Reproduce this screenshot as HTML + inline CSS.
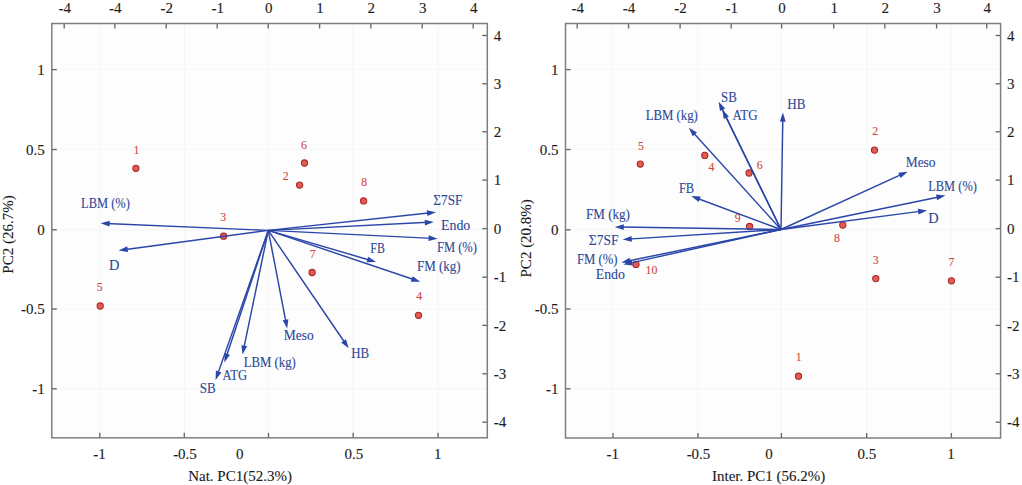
<!DOCTYPE html>
<html><head><meta charset="utf-8"><style>
html,body{margin:0;padding:0;background:#fff;}
svg{display:block;}
.ax{font-family:"Liberation Serif",serif;font-size:15px;fill:#1a1a1a;stroke:#1a1a1a;stroke-width:0.1px;}
.bl{font-family:"Liberation Serif",serif;font-size:13.6px;fill:#2d4898;stroke:#2d4898;stroke-width:0.1px;}
.rl{font-family:"Liberation Serif",serif;font-size:11.8px;fill:#d0463d;stroke:#d0463d;stroke-width:0.1px;}
</style></head><body>
<svg width="1022" height="485" viewBox="0 0 1022 485">
<rect width="1022" height="485" fill="#fff"/>
<rect x="51.8" y="23.5" width="435.5" height="414.3" fill="#fdfdfd"/>
<line x1="100.2" y1="23.5" x2="100.2" y2="437.8" stroke="#f6f6f6" stroke-width="1"/>
<line x1="184.5" y1="23.5" x2="184.5" y2="437.8" stroke="#f6f6f6" stroke-width="1"/>
<line x1="268.5" y1="23.5" x2="268.5" y2="437.8" stroke="#f6f6f6" stroke-width="1"/>
<line x1="353.2" y1="23.5" x2="353.2" y2="437.8" stroke="#f6f6f6" stroke-width="1"/>
<line x1="437.8" y1="23.5" x2="437.8" y2="437.8" stroke="#f6f6f6" stroke-width="1"/>
<line x1="51.8" y1="69.6" x2="487.3" y2="69.6" stroke="#f6f6f6" stroke-width="1"/>
<line x1="51.8" y1="149.5" x2="487.3" y2="149.5" stroke="#f6f6f6" stroke-width="1"/>
<line x1="51.8" y1="229.8" x2="487.3" y2="229.8" stroke="#f6f6f6" stroke-width="1"/>
<line x1="51.8" y1="309.0" x2="487.3" y2="309.0" stroke="#f6f6f6" stroke-width="1"/>
<line x1="51.8" y1="388.8" x2="487.3" y2="388.8" stroke="#f6f6f6" stroke-width="1"/>
<line x1="51.8" y1="69.6" x2="56.8" y2="69.6" stroke="#666666" stroke-width="1.35"/>
<text x="44.8" y="74.89999999999999" text-anchor="end" class="ax">1</text>
<line x1="51.8" y1="149.5" x2="56.8" y2="149.5" stroke="#666666" stroke-width="1.35"/>
<text x="44.8" y="154.8" text-anchor="end" class="ax">0.5</text>
<line x1="51.8" y1="229.8" x2="56.8" y2="229.8" stroke="#666666" stroke-width="1.35"/>
<text x="44.8" y="235.10000000000002" text-anchor="end" class="ax">0</text>
<line x1="51.8" y1="309.0" x2="56.8" y2="309.0" stroke="#666666" stroke-width="1.35"/>
<text x="44.8" y="314.3" text-anchor="end" class="ax">-0.5</text>
<line x1="51.8" y1="388.8" x2="56.8" y2="388.8" stroke="#666666" stroke-width="1.35"/>
<text x="44.8" y="394.1" text-anchor="end" class="ax">-1</text>
<line x1="99.8" y1="437.8" x2="99.8" y2="432.8" stroke="#666666" stroke-width="1.35"/>
<text x="99.5" y="458.8" text-anchor="middle" class="ax">-1</text>
<line x1="184.3" y1="437.8" x2="184.3" y2="432.8" stroke="#666666" stroke-width="1.35"/>
<text x="185" y="458.8" text-anchor="middle" class="ax">-0.5</text>
<line x1="268.5" y1="437.8" x2="268.5" y2="432.8" stroke="#666666" stroke-width="1.35"/>
<text x="239.8" y="458.8" text-anchor="middle" class="ax">0</text>
<line x1="353.2" y1="437.8" x2="353.2" y2="432.8" stroke="#666666" stroke-width="1.35"/>
<text x="353.8" y="458.8" text-anchor="middle" class="ax">0.5</text>
<line x1="438" y1="437.8" x2="438" y2="432.8" stroke="#666666" stroke-width="1.35"/>
<text x="437.8" y="458.8" text-anchor="middle" class="ax">1</text>
<line x1="64.2" y1="23.5" x2="64.2" y2="28.5" stroke="#666666" stroke-width="1.35"/>
<text x="64.7" y="12.6" text-anchor="middle" class="ax">-4</text>
<line x1="114.8" y1="23.5" x2="114.8" y2="28.5" stroke="#666666" stroke-width="1.35"/>
<text x="115.3" y="12.6" text-anchor="middle" class="ax">-4</text>
<line x1="166.2" y1="23.5" x2="166.2" y2="28.5" stroke="#666666" stroke-width="1.35"/>
<text x="166.7" y="12.6" text-anchor="middle" class="ax">-2</text>
<line x1="217.2" y1="23.5" x2="217.2" y2="28.5" stroke="#666666" stroke-width="1.35"/>
<text x="217.7" y="12.6" text-anchor="middle" class="ax">-1</text>
<line x1="268.2" y1="23.5" x2="268.2" y2="28.5" stroke="#666666" stroke-width="1.35"/>
<text x="268.7" y="12.6" text-anchor="middle" class="ax">0</text>
<line x1="319.6" y1="23.5" x2="319.6" y2="28.5" stroke="#666666" stroke-width="1.35"/>
<text x="320.1" y="12.6" text-anchor="middle" class="ax">1</text>
<line x1="370.8" y1="23.5" x2="370.8" y2="28.5" stroke="#666666" stroke-width="1.35"/>
<text x="371.3" y="12.6" text-anchor="middle" class="ax">2</text>
<line x1="422.2" y1="23.5" x2="422.2" y2="28.5" stroke="#666666" stroke-width="1.35"/>
<text x="422.7" y="12.6" text-anchor="middle" class="ax">3</text>
<line x1="473.2" y1="23.5" x2="473.2" y2="28.5" stroke="#666666" stroke-width="1.35"/>
<text x="473.7" y="12.6" text-anchor="middle" class="ax">4</text>
<line x1="487.3" y1="35.5" x2="482.3" y2="35.5" stroke="#666666" stroke-width="1.35"/>
<text x="493.8" y="40.6" class="ax">4</text>
<line x1="487.3" y1="83.8" x2="482.3" y2="83.8" stroke="#666666" stroke-width="1.35"/>
<text x="493.8" y="88.89999999999999" class="ax">3</text>
<line x1="487.3" y1="131.8" x2="482.3" y2="131.8" stroke="#666666" stroke-width="1.35"/>
<text x="493.8" y="136.9" class="ax">2</text>
<line x1="487.3" y1="180.1" x2="482.3" y2="180.1" stroke="#666666" stroke-width="1.35"/>
<text x="493.8" y="185.2" class="ax">1</text>
<line x1="487.3" y1="228.6" x2="482.3" y2="228.6" stroke="#666666" stroke-width="1.35"/>
<text x="493.8" y="233.7" class="ax">0</text>
<line x1="487.3" y1="277.2" x2="482.3" y2="277.2" stroke="#666666" stroke-width="1.35"/>
<text x="493.8" y="282.3" class="ax">-1</text>
<line x1="487.3" y1="325.4" x2="482.3" y2="325.4" stroke="#666666" stroke-width="1.35"/>
<text x="493.8" y="330.5" class="ax">-2</text>
<line x1="487.3" y1="373.8" x2="482.3" y2="373.8" stroke="#666666" stroke-width="1.35"/>
<text x="493.8" y="378.90000000000003" class="ax">-3</text>
<line x1="487.3" y1="422.2" x2="482.3" y2="422.2" stroke="#666666" stroke-width="1.35"/>
<text x="493.8" y="427.3" class="ax">-4</text>
<rect x="51.8" y="23.5" width="435.5" height="414.3" fill="none" stroke="#7f7f7f" stroke-width="1.5"/>
<text transform="translate(12.5,234.5) rotate(-90)" text-anchor="middle" class="ax">PC2 (26.7%)</text>
<text x="188.2" y="481" class="ax">Nat. PC1(52.3%)</text>
<circle cx="135.9" cy="168.3" r="3.1" fill="#e35a50" stroke="#a82a2a" stroke-width="1.1"/>
<text x="136.5" y="154.2" text-anchor="middle" class="rl">1</text>
<circle cx="299.6" cy="185.1" r="3.1" fill="#e35a50" stroke="#a82a2a" stroke-width="1.1"/>
<text x="285.7" y="180" text-anchor="middle" class="rl">2</text>
<circle cx="304.5" cy="163" r="3.1" fill="#e35a50" stroke="#a82a2a" stroke-width="1.1"/>
<text x="303.9" y="148.6" text-anchor="middle" class="rl">6</text>
<circle cx="363.6" cy="200.9" r="3.1" fill="#e35a50" stroke="#a82a2a" stroke-width="1.1"/>
<text x="364.2" y="185.9" text-anchor="middle" class="rl">8</text>
<circle cx="223.6" cy="236.2" r="3.1" fill="#e35a50" stroke="#a82a2a" stroke-width="1.1"/>
<text x="223.3" y="221.1" text-anchor="middle" class="rl">3</text>
<circle cx="312.1" cy="272.5" r="3.1" fill="#e35a50" stroke="#a82a2a" stroke-width="1.1"/>
<text x="312.8" y="258" text-anchor="middle" class="rl">7</text>
<circle cx="100.2" cy="306" r="3.1" fill="#e35a50" stroke="#a82a2a" stroke-width="1.1"/>
<text x="99.7" y="290.8" text-anchor="middle" class="rl">5</text>
<circle cx="418.5" cy="315.3" r="3.1" fill="#e35a50" stroke="#a82a2a" stroke-width="1.1"/>
<text x="419.1" y="299.8" text-anchor="middle" class="rl">4</text>
<line x1="268.30" y1="230.40" x2="106.00" y2="223.41" stroke="#2a46a8" stroke-width="1.45"/><path d="M100.60,223.17 L109.72,220.66 L109.47,226.46 Z" fill="#2a46a8"/>
<line x1="268.30" y1="230.40" x2="124.06" y2="249.66" stroke="#2a46a8" stroke-width="1.45"/><path d="M118.71,250.38 L127.24,246.31 L128.01,252.06 Z" fill="#2a46a8"/>
<line x1="268.30" y1="230.40" x2="430.63" y2="212.82" stroke="#2a46a8" stroke-width="1.45"/><path d="M436.00,212.24 L427.36,216.09 L426.74,210.32 Z" fill="#2a46a8"/>
<line x1="268.30" y1="230.40" x2="428.41" y2="222.34" stroke="#2a46a8" stroke-width="1.45"/><path d="M433.80,222.07 L424.96,225.42 L424.66,219.63 Z" fill="#2a46a8"/>
<line x1="268.30" y1="230.40" x2="432.21" y2="238.37" stroke="#2a46a8" stroke-width="1.45"/><path d="M437.60,238.63 L428.47,241.09 L428.75,235.30 Z" fill="#2a46a8"/>
<line x1="268.30" y1="230.40" x2="370.89" y2="260.45" stroke="#2a46a8" stroke-width="1.45"/><path d="M376.08,261.97 L366.62,262.22 L368.25,256.66 Z" fill="#2a46a8"/>
<line x1="268.30" y1="230.40" x2="415.15" y2="280.06" stroke="#2a46a8" stroke-width="1.45"/><path d="M420.27,281.79 L410.81,281.66 L412.67,276.16 Z" fill="#2a46a8"/>
<line x1="268.30" y1="230.40" x2="217.40" y2="374.87" stroke="#2a46a8" stroke-width="1.45"/><path d="M215.60,379.97 L215.86,370.51 L221.33,372.44 Z" fill="#2a46a8"/>
<line x1="268.30" y1="230.40" x2="226.11" y2="357.34" stroke="#2a46a8" stroke-width="1.45"/><path d="M224.41,362.47 L224.50,353.01 L230.00,354.84 Z" fill="#2a46a8"/>
<line x1="268.30" y1="230.40" x2="243.58" y2="349.30" stroke="#2a46a8" stroke-width="1.45"/><path d="M242.48,354.59 L241.47,345.19 L247.15,346.37 Z" fill="#2a46a8"/>
<line x1="268.30" y1="230.40" x2="286.19" y2="323.29" stroke="#2a46a8" stroke-width="1.45"/><path d="M287.21,328.59 L282.66,320.30 L288.36,319.20 Z" fill="#2a46a8"/>
<line x1="268.30" y1="230.40" x2="345.60" y2="343.73" stroke="#2a46a8" stroke-width="1.45"/><path d="M348.64,348.20 L341.17,342.39 L345.96,339.13 Z" fill="#2a46a8"/>
<text x="81.06" y="207.5" class="bl" textLength="48.82" lengthAdjust="spacingAndGlyphs">LBM (%)</text>
<text x="108.90" y="270" class="bl" textLength="10.40" lengthAdjust="spacingAndGlyphs">D</text>
<text x="433.31" y="204.8" class="bl" textLength="29.15" lengthAdjust="spacingAndGlyphs">&#931;7SF</text>
<text x="441.02" y="229.8" class="bl" textLength="29.28" lengthAdjust="spacingAndGlyphs">Endo</text>
<text x="436.95" y="252.3" class="bl" textLength="40.07" lengthAdjust="spacingAndGlyphs">FM (%)</text>
<text x="370.37" y="252.9" class="bl" textLength="14.48" lengthAdjust="spacingAndGlyphs">FB</text>
<text x="416.94" y="271.4" class="bl" textLength="43.62" lengthAdjust="spacingAndGlyphs">FM (kg)</text>
<text x="199.86" y="393.2" class="bl" textLength="15.95" lengthAdjust="spacingAndGlyphs">SB</text>
<text x="222.48" y="380" class="bl" textLength="24.63" lengthAdjust="spacingAndGlyphs">ATG</text>
<text x="243.65" y="367" class="bl" textLength="52.17" lengthAdjust="spacingAndGlyphs">LBM (kg)</text>
<text x="283.83" y="340.3" class="bl" textLength="29.96" lengthAdjust="spacingAndGlyphs">Meso</text>
<text x="351.24" y="357.9" class="bl" textLength="17.97" lengthAdjust="spacingAndGlyphs">HB</text>
<rect x="565.5" y="23.5" width="435.1" height="414.5" fill="#fdfdfd"/>
<line x1="612.7" y1="23.5" x2="612.7" y2="438" stroke="#f6f6f6" stroke-width="1"/>
<line x1="697.8" y1="23.5" x2="697.8" y2="438" stroke="#f6f6f6" stroke-width="1"/>
<line x1="781.3" y1="23.5" x2="781.3" y2="438" stroke="#f6f6f6" stroke-width="1"/>
<line x1="866.8" y1="23.5" x2="866.8" y2="438" stroke="#f6f6f6" stroke-width="1"/>
<line x1="951.2" y1="23.5" x2="951.2" y2="438" stroke="#f6f6f6" stroke-width="1"/>
<line x1="565.5" y1="69.6" x2="1000.6" y2="69.6" stroke="#f6f6f6" stroke-width="1"/>
<line x1="565.5" y1="149.5" x2="1000.6" y2="149.5" stroke="#f6f6f6" stroke-width="1"/>
<line x1="565.5" y1="229.8" x2="1000.6" y2="229.8" stroke="#f6f6f6" stroke-width="1"/>
<line x1="565.5" y1="309.0" x2="1000.6" y2="309.0" stroke="#f6f6f6" stroke-width="1"/>
<line x1="565.5" y1="388.8" x2="1000.6" y2="388.8" stroke="#f6f6f6" stroke-width="1"/>
<line x1="565.5" y1="69.6" x2="570.5" y2="69.6" stroke="#666666" stroke-width="1.35"/>
<text x="558.5" y="74.89999999999999" text-anchor="end" class="ax">1</text>
<line x1="565.5" y1="149.5" x2="570.5" y2="149.5" stroke="#666666" stroke-width="1.35"/>
<text x="558.5" y="154.8" text-anchor="end" class="ax">0.5</text>
<line x1="565.5" y1="229.8" x2="570.5" y2="229.8" stroke="#666666" stroke-width="1.35"/>
<text x="558.5" y="235.10000000000002" text-anchor="end" class="ax">0</text>
<line x1="565.5" y1="309.0" x2="570.5" y2="309.0" stroke="#666666" stroke-width="1.35"/>
<text x="558.5" y="314.3" text-anchor="end" class="ax">-0.5</text>
<line x1="565.5" y1="388.8" x2="570.5" y2="388.8" stroke="#666666" stroke-width="1.35"/>
<text x="558.5" y="394.1" text-anchor="end" class="ax">-1</text>
<line x1="613" y1="438" x2="613" y2="433" stroke="#666666" stroke-width="1.35"/>
<text x="612.8" y="458.8" text-anchor="middle" class="ax">-1</text>
<line x1="698" y1="438" x2="698" y2="433" stroke="#666666" stroke-width="1.35"/>
<text x="698.5" y="458.8" text-anchor="middle" class="ax">-0.5</text>
<line x1="781.4" y1="438" x2="781.4" y2="433" stroke="#666666" stroke-width="1.35"/>
<text x="769" y="458.8" text-anchor="middle" class="ax">0</text>
<line x1="866.7" y1="438" x2="866.7" y2="433" stroke="#666666" stroke-width="1.35"/>
<text x="866.9" y="458.8" text-anchor="middle" class="ax">0.5</text>
<line x1="951.4" y1="438" x2="951.4" y2="433" stroke="#666666" stroke-width="1.35"/>
<text x="951" y="458.8" text-anchor="middle" class="ax">1</text>
<line x1="577.2" y1="23.5" x2="577.2" y2="28.5" stroke="#666666" stroke-width="1.35"/>
<text x="577.7" y="12.6" text-anchor="middle" class="ax">-4</text>
<line x1="628.5" y1="23.5" x2="628.5" y2="28.5" stroke="#666666" stroke-width="1.35"/>
<text x="629.0" y="12.6" text-anchor="middle" class="ax">-4</text>
<line x1="680.1" y1="23.5" x2="680.1" y2="28.5" stroke="#666666" stroke-width="1.35"/>
<text x="680.6" y="12.6" text-anchor="middle" class="ax">-2</text>
<line x1="731.2" y1="23.5" x2="731.2" y2="28.5" stroke="#666666" stroke-width="1.35"/>
<text x="731.7" y="12.6" text-anchor="middle" class="ax">-1</text>
<line x1="781.6" y1="23.5" x2="781.6" y2="28.5" stroke="#666666" stroke-width="1.35"/>
<text x="782.1" y="12.6" text-anchor="middle" class="ax">0</text>
<line x1="833.7" y1="23.5" x2="833.7" y2="28.5" stroke="#666666" stroke-width="1.35"/>
<text x="834.2" y="12.6" text-anchor="middle" class="ax">1</text>
<line x1="884.8" y1="23.5" x2="884.8" y2="28.5" stroke="#666666" stroke-width="1.35"/>
<text x="885.3" y="12.6" text-anchor="middle" class="ax">2</text>
<line x1="936.6" y1="23.5" x2="936.6" y2="28.5" stroke="#666666" stroke-width="1.35"/>
<text x="937.1" y="12.6" text-anchor="middle" class="ax">3</text>
<line x1="986.7" y1="23.5" x2="986.7" y2="28.5" stroke="#666666" stroke-width="1.35"/>
<text x="987.2" y="12.6" text-anchor="middle" class="ax">4</text>
<line x1="1000.6" y1="35.5" x2="995.6" y2="35.5" stroke="#666666" stroke-width="1.35"/>
<text x="1007.1" y="40.6" class="ax">4</text>
<line x1="1000.6" y1="83.8" x2="995.6" y2="83.8" stroke="#666666" stroke-width="1.35"/>
<text x="1007.1" y="88.89999999999999" class="ax">3</text>
<line x1="1000.6" y1="131.8" x2="995.6" y2="131.8" stroke="#666666" stroke-width="1.35"/>
<text x="1007.1" y="136.9" class="ax">2</text>
<line x1="1000.6" y1="180.1" x2="995.6" y2="180.1" stroke="#666666" stroke-width="1.35"/>
<text x="1007.1" y="185.2" class="ax">1</text>
<line x1="1000.6" y1="228.6" x2="995.6" y2="228.6" stroke="#666666" stroke-width="1.35"/>
<text x="1007.1" y="233.7" class="ax">0</text>
<line x1="1000.6" y1="277.2" x2="995.6" y2="277.2" stroke="#666666" stroke-width="1.35"/>
<text x="1007.1" y="282.3" class="ax">-1</text>
<line x1="1000.6" y1="325.4" x2="995.6" y2="325.4" stroke="#666666" stroke-width="1.35"/>
<text x="1007.1" y="330.5" class="ax">-2</text>
<line x1="1000.6" y1="373.8" x2="995.6" y2="373.8" stroke="#666666" stroke-width="1.35"/>
<text x="1007.1" y="378.90000000000003" class="ax">-3</text>
<line x1="1000.6" y1="422.2" x2="995.6" y2="422.2" stroke="#666666" stroke-width="1.35"/>
<text x="1007.1" y="427.3" class="ax">-4</text>
<rect x="565.5" y="23.5" width="435.1" height="414.5" fill="none" stroke="#7f7f7f" stroke-width="1.5"/>
<text transform="translate(530.7,238.3) rotate(-90)" text-anchor="middle" class="ax">PC2 (20.8%)</text>
<text x="712" y="481" class="ax">Inter. PC1 (56.2%)</text>
<circle cx="798.5" cy="376.2" r="3.1" fill="#e35a50" stroke="#a82a2a" stroke-width="1.1"/>
<text x="798.7" y="361.3" text-anchor="middle" class="rl">1</text>
<circle cx="874.5" cy="150.1" r="3.1" fill="#e35a50" stroke="#a82a2a" stroke-width="1.1"/>
<text x="875.2" y="134.8" text-anchor="middle" class="rl">2</text>
<circle cx="875.8" cy="278.6" r="3.1" fill="#e35a50" stroke="#a82a2a" stroke-width="1.1"/>
<text x="875.8" y="263.9" text-anchor="middle" class="rl">3</text>
<circle cx="704.8" cy="155.4" r="3.1" fill="#e35a50" stroke="#a82a2a" stroke-width="1.1"/>
<text x="711.5" y="171" text-anchor="middle" class="rl">4</text>
<circle cx="640.3" cy="164.1" r="3.1" fill="#e35a50" stroke="#a82a2a" stroke-width="1.1"/>
<text x="641" y="150" text-anchor="middle" class="rl">5</text>
<circle cx="749.1" cy="173" r="3.1" fill="#e35a50" stroke="#a82a2a" stroke-width="1.1"/>
<text x="759.7" y="168.5" text-anchor="middle" class="rl">6</text>
<circle cx="951.4" cy="280.8" r="3.1" fill="#e35a50" stroke="#a82a2a" stroke-width="1.1"/>
<text x="951.4" y="266" text-anchor="middle" class="rl">7</text>
<circle cx="842.8" cy="225.1" r="3.1" fill="#e35a50" stroke="#a82a2a" stroke-width="1.1"/>
<text x="836.9" y="242.4" text-anchor="middle" class="rl">8</text>
<circle cx="749.6" cy="226.5" r="3.1" fill="#e35a50" stroke="#a82a2a" stroke-width="1.1"/>
<text x="737.8" y="222" text-anchor="middle" class="rl">9</text>
<circle cx="636" cy="264.4" r="3.1" fill="#e35a50" stroke="#a82a2a" stroke-width="1.1"/>
<text x="651.5" y="274.1" text-anchor="middle" class="rl">10</text>
<line x1="781.00" y1="229.50" x2="721.01" y2="106.61" stroke="#2a46a8" stroke-width="1.45"/><path d="M718.64,101.76 L725.19,108.58 L719.98,111.12 Z" fill="#2a46a8"/>
<line x1="781.00" y1="229.50" x2="724.71" y2="114.51" stroke="#2a46a8" stroke-width="1.45"/><path d="M722.34,109.66 L728.90,116.47 L723.69,119.02 Z" fill="#2a46a8"/>
<line x1="781.00" y1="229.50" x2="782.82" y2="118.00" stroke="#2a46a8" stroke-width="1.45"/><path d="M782.91,112.60 L785.66,121.65 L779.86,121.55 Z" fill="#2a46a8"/>
<line x1="781.00" y1="229.50" x2="692.42" y2="131.76" stroke="#2a46a8" stroke-width="1.45"/><path d="M688.80,127.76 L696.99,132.48 L692.69,136.37 Z" fill="#2a46a8"/>
<line x1="781.00" y1="229.50" x2="696.30" y2="197.97" stroke="#2a46a8" stroke-width="1.45"/><path d="M691.24,196.09 L700.68,196.51 L698.66,201.95 Z" fill="#2a46a8"/>
<line x1="781.00" y1="229.50" x2="620.20" y2="227.07" stroke="#2a46a8" stroke-width="1.45"/><path d="M614.80,226.99 L623.84,224.23 L623.76,230.03 Z" fill="#2a46a8"/>
<line x1="781.00" y1="229.50" x2="628.09" y2="239.10" stroke="#2a46a8" stroke-width="1.45"/><path d="M622.70,239.44 L631.50,235.98 L631.87,241.77 Z" fill="#2a46a8"/>
<line x1="781.00" y1="229.50" x2="626.70" y2="261.33" stroke="#2a46a8" stroke-width="1.45"/><path d="M621.41,262.42 L629.64,257.76 L630.81,263.44 Z" fill="#2a46a8"/>
<line x1="781.00" y1="229.50" x2="628.69" y2="263.36" stroke="#2a46a8" stroke-width="1.45"/><path d="M623.41,264.53 L631.57,259.75 L632.83,265.41 Z" fill="#2a46a8"/>
<line x1="781.00" y1="229.50" x2="902.73" y2="173.89" stroke="#2a46a8" stroke-width="1.45"/><path d="M907.65,171.65 L900.66,178.03 L898.25,172.75 Z" fill="#2a46a8"/>
<line x1="781.00" y1="229.50" x2="940.10" y2="196.67" stroke="#2a46a8" stroke-width="1.45"/><path d="M945.39,195.58 L937.16,200.24 L935.99,194.56 Z" fill="#2a46a8"/>
<line x1="781.00" y1="229.50" x2="921.74" y2="211.12" stroke="#2a46a8" stroke-width="1.45"/><path d="M927.09,210.42 L918.55,214.46 L917.80,208.71 Z" fill="#2a46a8"/>
<text x="721.07" y="101.8" class="bl" textLength="15.73" lengthAdjust="spacingAndGlyphs">SB</text>
<text x="732.38" y="119.6" class="bl" textLength="25.24" lengthAdjust="spacingAndGlyphs">ATG</text>
<text x="787.24" y="108.9" class="bl" textLength="18.18" lengthAdjust="spacingAndGlyphs">HB</text>
<text x="645.65" y="119.6" class="bl" textLength="52.17" lengthAdjust="spacingAndGlyphs">LBM (kg)</text>
<text x="678.96" y="192.5" class="bl" textLength="15.22" lengthAdjust="spacingAndGlyphs">FB</text>
<text x="585.94" y="219" class="bl" textLength="44.03" lengthAdjust="spacingAndGlyphs">FM (kg)</text>
<text x="588.80" y="244.6" class="bl" textLength="29.77" lengthAdjust="spacingAndGlyphs">&#931;7SF</text>
<text x="576.95" y="263.9" class="bl" textLength="40.58" lengthAdjust="spacingAndGlyphs">FM (%)</text>
<text x="595.72" y="279.1" class="bl" textLength="29.28" lengthAdjust="spacingAndGlyphs">Endo</text>
<text x="905.73" y="167" class="bl" textLength="29.86" lengthAdjust="spacingAndGlyphs">Meso</text>
<text x="928.26" y="190.7" class="bl" textLength="48.62" lengthAdjust="spacingAndGlyphs">LBM (%)</text>
<text x="928.20" y="222.5" class="bl" textLength="10.40" lengthAdjust="spacingAndGlyphs">D</text>
</svg>
</body></html>
